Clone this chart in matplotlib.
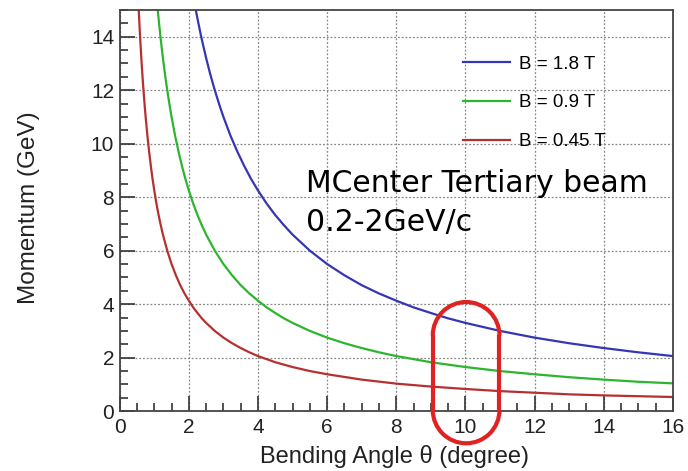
import matplotlib.pyplot as plt
from matplotlib.patches import Arc
from matplotlib.ticker import MultipleLocator

# momentum vs bending angle, one curve per field setting
theta_18 = [2.2, 2.25, 2.3, 2.35, 2.4, 2.5, 2.6, 2.7, 2.8, 2.9, 3.0, 3.2, 3.4, 3.6,
            3.8, 4.0, 4.25, 4.5, 4.75, 5.0, 5.5, 6.0, 6.5, 7.0, 7.5, 8.0, 8.5, 9.0,
            9.5, 10.0, 11.0, 12.0, 13.0, 14.0, 15.0, 16.0]
p_18 = [15.0, 14.67, 14.35, 14.04, 13.75, 13.2, 12.69, 12.22, 11.79, 11.38, 11.0,
        10.31, 9.71, 9.17, 8.68, 8.25, 7.76, 7.33, 6.95, 6.6, 6.0, 5.5, 5.08, 4.71,
        4.4, 4.13, 3.88, 3.67, 3.47, 3.3, 3.0, 2.75, 2.54, 2.36, 2.2, 2.06]

theta_09 = [1.1, 1.125, 1.15, 1.175, 1.2, 1.25, 1.3, 1.35, 1.4, 1.45, 1.5, 1.6, 1.7,
            1.8, 1.9, 2.0, 2.125, 2.25, 2.375, 2.5, 2.75, 3.0, 3.25, 3.5, 3.75, 4.0,
            4.25, 4.5, 4.75, 5.0, 5.5, 6.0, 6.5, 7.0, 7.5, 8.0, 9.0, 10.0, 11.0,
            12.0, 13.0, 14.0, 15.0, 16.0]
p_09 = [15.0, 14.67, 14.35, 14.04, 13.75, 13.2, 12.69, 12.22, 11.79, 11.38, 11.0,
        10.31, 9.71, 9.17, 8.68, 8.25, 7.76, 7.33, 6.95, 6.6, 6.0, 5.5, 5.08, 4.71,
        4.4, 4.13, 3.88, 3.67, 3.47, 3.3, 3.0, 2.75, 2.54, 2.36, 2.2, 2.06, 1.83,
        1.65, 1.5, 1.38, 1.27, 1.18, 1.1, 1.04]

theta_045 = [0.55, 0.5625, 0.575, 0.5875, 0.6, 0.625, 0.65, 0.675, 0.7, 0.725, 0.75,
             0.8, 0.85, 0.9, 0.95, 1.0, 1.0625, 1.125, 1.1875, 1.25, 1.375, 1.5,
             1.625, 1.75, 1.875, 2.0, 2.125, 2.25, 2.375, 2.5, 2.75, 3.0, 3.25, 3.5,
             3.75, 4.0, 4.5, 5.0, 5.5, 6.0, 7.0, 8.0, 9.0, 10.0, 11.0, 12.0, 13.0,
             14.0, 15.0, 16.0]
p_045 = [15.0, 14.67, 14.35, 14.04, 13.75, 13.2, 12.69, 12.22, 11.79, 11.38, 11.0,
         10.31, 9.71, 9.17, 8.68, 8.25, 7.76, 7.33, 6.95, 6.6, 6.0, 5.5, 5.08, 4.71,
         4.4, 4.13, 3.88, 3.67, 3.47, 3.3, 3.0, 2.75, 2.54, 2.36, 2.2, 2.06, 1.83,
         1.65, 1.5, 1.38, 1.18, 1.03, 0.92, 0.83, 0.75, 0.69, 0.63, 0.59, 0.56, 0.53]

labels = ['B = 1.8 T', 'B = 0.9 T', 'B = 0.45 T']
colors = ['#3535b5', '#2db52d', '#b53030']

plt.rcParams['font.family'] = ['Liberation Sans', 'DejaVu Sans']

fig = plt.figure(figsize=(6.88, 4.71), dpi=100)
ax = fig.add_axes([0.174, 0.127, 0.804, 0.852])

for th, p, lab, c in zip([theta_18, theta_09, theta_045], [p_18, p_09, p_045], labels, colors):
    ax.plot(th, p, color=c, lw=1.6, label=lab)

ax.set_xlim(0, 16)
ax.set_ylim(0, 15)
ax.xaxis.set_major_locator(MultipleLocator(2))
ax.xaxis.set_minor_locator(MultipleLocator(0.5))
ax.yaxis.set_major_locator(MultipleLocator(2))
ax.yaxis.set_minor_locator(MultipleLocator(0.5))
ax.tick_params(which='both', direction='in', colors='#333333', labelcolor='#222222',
               labelsize=15, width=1.2)
ax.tick_params(which='major', length=11)
ax.tick_params(which='minor', length=5.5)
ax.tick_params(axis='x', pad=5)
ax.tick_params(axis='y', pad=4)
ax.grid(which='major', ls=(0, (1.5, 1.5)), color='#888888', lw=0.9)
for s in ax.spines.values():
    s.set_color('#444444')
    s.set_linewidth(1.3)

ax.set_xlabel('Bending Angle θ (degree)', fontsize=17, color='#222222')
ax.set_ylabel('Momentum (GeV)', fontsize=17.5, color='#222222')
ax.xaxis.set_label_coords(0.497, -0.085)
ax.yaxis.set_label_coords(-0.145, 0.507)

ax.legend(loc='upper left', bbox_to_anchor=(0.62, 0.886), frameon=False, fontsize=13.5,
          borderpad=0, borderaxespad=0, handlelength=2.55, handletextpad=0.45,
          labelspacing=1.15)

ax.text(0.337, 0.519, 'MCenter Tertiary beam\n0.2-2GeV/c', transform=ax.transAxes,
        fontsize=21.5, family='DejaVu Sans', color='black', linespacing=1.45,
        va='center', ha='left')

# stadium outline around theta = 10 degrees
red = '#e02222'
xc, hw = 10.02, 0.965
ry = hw * 34.5 / 26.7
y_top, y_bot = 4.08, -1.2
for yc, t1, t2 in [(y_top - ry, 0, 180), (y_bot + ry, 180, 360)]:
    ax.add_patch(Arc((xc, yc), 2 * hw, 2 * ry, theta1=t1, theta2=t2, color=red,
                     lw=3, clip_on=False, zorder=5))
for x in (xc - hw, xc + hw):
    ax.plot([x, x], [y_bot + ry, y_top - ry], color=red, lw=3, clip_on=False,
            zorder=5, solid_capstyle='butt')

fig.savefig('out.png', dpi=100)
